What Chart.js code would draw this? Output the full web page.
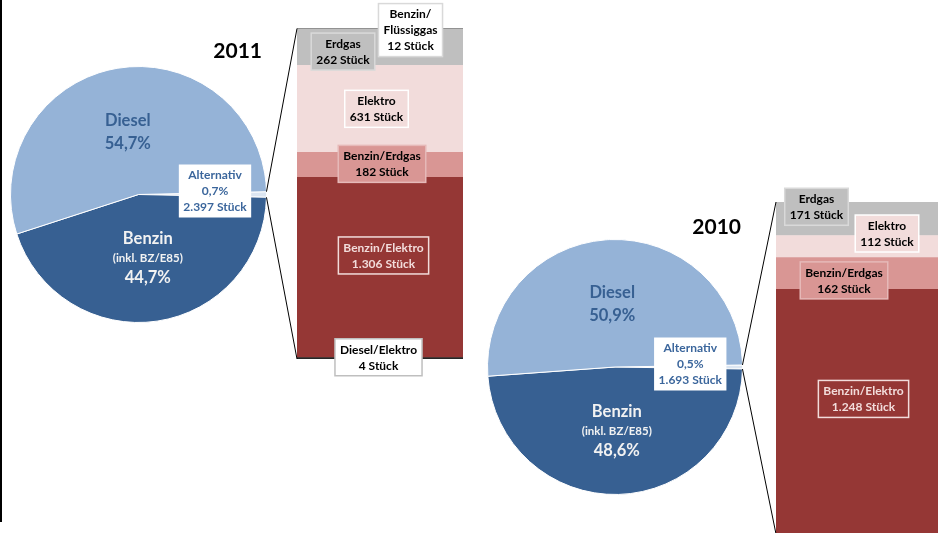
<!DOCTYPE html>
<html><head><meta charset="utf-8">
<script src="https://cdn.jsdelivr.net/npm/chart.js@4.4.1/dist/chart.umd.min.js"></script>
<style>
html,body{margin:0;padding:0;background:#fff;width:938px;height:533px;overflow:hidden;position:relative;}
.wrap{position:absolute;}
#frame{position:absolute;left:0;top:0;width:0;height:522px;border-left:2px solid #000;}
</style></head><body>
<div id="frame"></div>
<div class="wrap" style="left:0;top:0;width:280px;height:340px"><canvas id="pie11"></canvas></div>
<div class="wrap" style="left:240px;top:0;width:240px;height:385px"><canvas id="bar11"></canvas></div>
<div class="wrap" style="left:470px;top:180px;width:290px;height:340px"><canvas id="pie10"></canvas></div>
<div class="wrap" style="left:740px;top:180px;width:210px;height:360px"><canvas id="bar10"></canvas></div>
<script>
// ---------------- DATA ----------------
const pieCategories = ['Alternativ', 'Benzin', 'Diesel'];
const pieShares2011 = [0.7, 44.7, 54.7];
const pieShares2010 = [0.5, 48.6, 50.9];
const altCount2011 = 2397;
const altCount2010 = 1693;
const barCategories2011 = ['Diesel/Elektro', 'Benzin/Elektro', 'Benzin/Erdgas', 'Elektro', 'Erdgas', 'Benzin/Flüssiggas'];
const barValues2011 = [4, 1306, 182, 631, 262, 12];
const barCategories2010 = ['Benzin/Elektro', 'Benzin/Erdgas', 'Elektro', 'Erdgas'];
const barValues2010 = [1248, 162, 112, 171];
const yearLabels = ['2011', '2010'];

// ---------------- STYLE ----------------
const FONT = 'Lato, "Open Sans", sans-serif';
const pieColors = ['#dbe5f1', '#376092', '#95b3d7'];
const segColors = {
  'Diesel/Elektro': '#262626', 'Benzin/Elektro': '#953735', 'Benzin/Erdgas': '#d99694',
  'Elektro': '#f2dcdb', 'Erdgas': '#bfbfbf', 'Benzin/Flüssiggas': '#262626'
};
const barLabelStyle = {
  'Diesel/Elektro': {fill: '#ffffff', stroke: '#bfbfbf', color: '#000000'},
  'Benzin/Elektro': {fill: '#953735', stroke: '#f2dcdb', color: '#f2dcdb'},
  'Benzin/Erdgas': {fill: '#d99694', stroke: '#e6b9b8', color: '#000000'},
  'Elektro': {fill: '#f2dcdb', stroke: '#ffffff', color: '#000000'},
  'Erdgas': {fill: '#bfbfbf', stroke: '#d9d9d9', color: '#000000'},
  'Benzin/Flüssiggas': {fill: '#ffffff', stroke: '#d9d9d9', color: '#000000'}
};
const barLabelOffsets2011 = {
  'Benzin/Flüssiggas': [30.5, 1.7], 'Erdgas': [-37, 4.3], 'Elektro': [-3.5, 0],
  'Benzin/Erdgas': [2, -1], 'Benzin/Elektro': [3.5, -12], 'Diesel/Elektro': [-1.5, -1]
};
const barLabelOffsets2010 = {
  'Erdgas': [-42.5, -12], 'Elektro': [28, -13], 'Benzin/Erdgas': [-15, 7], 'Benzin/Elektro': [4.5, -12.7]
};

function fmtInt(n) { return String(n).replace(/\B(?=(\d{3})+(?!\d))/g, '.'); }
function fmtPct(p) { return p.toFixed(1).replace('.', ',') + '%'; }

// ---------------- PLUGINS ----------------
const boxLabels = {
  id: 'boxLabels',
  afterDatasetsDraw(chart, args, opts) {
    const ctx = chart.ctx;
    for (const it of (opts.items || [])) {
      const el = chart.getDatasetMeta(it.ds).data[it.idx];
      const c = el.getCenterPoint(true);
      const cx = c.x + (it.dx || 0), cy = c.y + (it.dy || 0);
      ctx.save();
      let w = 0, h = 0;
      it.lines.forEach(l => {
        ctx.font = 'bold ' + l.size + 'px ' + FONT;
        w = Math.max(w, ctx.measureText(l.t).width);
        h += l.lh;
      });
      if (it.box) {
        const bw = w + it.padX * 2, bh = h + it.padY * 2;
        ctx.fillStyle = it.box.fill;
        ctx.fillRect(cx - bw / 2, cy - bh / 2, bw, bh);
        if (it.box.stroke) {
          ctx.strokeStyle = it.box.stroke;
          ctx.lineWidth = 1.5;
          ctx.strokeRect(cx - bw / 2, cy - bh / 2, bw, bh);
        }
      }
      let y = cy - h / 2;
      ctx.textAlign = 'center';
      ctx.textBaseline = 'middle';
      it.lines.forEach(l => {
        ctx.font = 'bold ' + l.size + 'px ' + FONT;
        ctx.fillStyle = l.color || it.color;
        ctx.fillText(l.t, cx, y + l.lh / 2 + 0.5);
        y += l.lh;
      });
      ctx.restore();
    }
  }
};

const yearTitle = {
  id: 'yearTitle',
  afterDraw(chart, args, opts) {
    const ctx = chart.ctx, a = chart.chartArea;
    ctx.save();
    ctx.font = 'bold 21px ' + FONT;
    ctx.fillStyle = '#000000';
    ctx.textAlign = 'right';
    ctx.textBaseline = 'middle';
    ctx.fillText(opts.text, a.right + opts.dx, a.top + opts.dy);
    ctx.restore();
  }
};

const connector = {
  id: 'connector',
  afterDraw(chart, args, opts) {
    const pie = opts.pie;
    if (!pie) return;
    const arc = pie.getDatasetMeta(0).data[0];
    const pr = pie.canvas.getBoundingClientRect(), br = chart.canvas.getBoundingClientRect();
    const ox = pr.left - br.left, oy = pr.top - br.top;
    const r = arc.outerRadius;
    const p1 = {x: ox + arc.x + r * Math.cos(arc.startAngle), y: oy + arc.y + r * Math.sin(arc.startAngle)};
    const p2 = {x: ox + arc.x + r * Math.cos(arc.endAngle), y: oy + arc.y + r * Math.sin(arc.endAngle)};
    const bar = chart.getDatasetMeta(0).data[0];
    const left = bar.x - bar.width / 2;
    const ys = chart.scales.y;
    const top = ys.getPixelForValue(ys.max), bottom = ys.getPixelForValue(0);
    const ctx = chart.ctx;
    ctx.save();
    ctx.strokeStyle = '#000000';
    ctx.lineWidth = 1;
    ctx.beginPath();
    ctx.moveTo(p1.x, p1.y); ctx.lineTo(left, top);
    ctx.moveTo(p2.x, p2.y); ctx.lineTo(left, bottom);
    ctx.stroke();
    ctx.restore();
  }
};

// ---------------- BUILDERS ----------------
function pieItems(shares, count, altOffset) {
  const blue = '#376092', light = '#f2f2f2';
  return [
    {ds: 0, idx: 2, dx: 0, dy: 0, color: blue, lines: [
      {t: pieCategories[2], size: 16.5, lh: 23}, {t: fmtPct(shares[2]), size: 16.5, lh: 23}]},
    {ds: 0, idx: 1, dx: 0, dy: 0, color: light, lines: [
      {t: pieCategories[1], size: 16.5, lh: 20}, {t: '(inkl. BZ/E85)', size: 11.5, lh: 19}, {t: fmtPct(shares[1]), size: 16.5, lh: 20}]},
    {ds: 0, idx: 0, dx: altOffset[0], dy: altOffset[1], color: '#3b669c', padX: 4.5, padY: 2.5,
      box: {fill: '#ffffff'}, lines: [
      {t: pieCategories[0], size: 12, lh: 16}, {t: fmtPct(shares[0]), size: 12, lh: 16}, {t: fmtInt(count) + ' Stück', size: 12, lh: 16}]}
  ];
}

function makePie(id, shares, count, altOffset, year, tdx, tdy, padding) {
  const sum = shares.reduce((a, b) => a + b, 0);
  return new Chart(document.getElementById(id), {
    type: 'pie',
    data: {labels: pieCategories, datasets: [{data: shares, backgroundColor: pieColors, borderColor: '#ffffff', borderWidth: 1}]},
    options: {
      responsive: true, maintainAspectRatio: false, animation: false, events: [],
      rotation: 90 - shares[0] / sum * 180,
      layout: {padding: padding},
      plugins: {
        legend: {display: false}, tooltip: {enabled: false},
        boxLabels: {items: pieItems(shares, count, altOffset)},
        yearTitle: {text: year, dx: tdx, dy: tdy}
      }
    },
    plugins: [boxLabels, yearTitle]
  });
}

function barLines(cat, v) {
  const name = cat === 'Benzin/Flüssiggas' ? ['Benzin/', 'Flüssiggas'] : [cat];
  return name.concat([fmtInt(v) + ' Stück']).map(t => ({t: t, size: 12, lh: 16}));
}

function makeBar(id, cats, vals, offsets, pie, padding) {
  const total = vals.reduce((a, b) => a + b, 0);
  const items = cats.map((c, i) => ({
    ds: i, idx: 0, dx: offsets[c][0], dy: offsets[c][1], color: barLabelStyle[c].color,
    padX: 5, padY: 2.5, box: {fill: barLabelStyle[c].fill, stroke: barLabelStyle[c].stroke},
    lines: barLines(c, vals[i])
  })).reverse();
  return new Chart(document.getElementById(id), {
    type: 'bar',
    data: {labels: [''], datasets: cats.map((c, i) => ({
      label: c, data: [vals[i]], backgroundColor: segColors[c], borderWidth: 0,
      minBarLength: 1.5, barPercentage: 1, categoryPercentage: 1
    }))},
    options: {
      responsive: true, maintainAspectRatio: false, animation: false, events: [],
      layout: {padding: padding},
      scales: {
        x: {display: false, stacked: true},
        y: {display: false, stacked: true, min: 0, max: total}
      },
      plugins: {
        legend: {display: false}, tooltip: {enabled: false},
        boxLabels: {items: items},
        connector: {pie: pie}
      }
    },
    plugins: [boxLabels, connector]
  });
}

const pie11 = makePie('pie11', pieShares2011, altCount2011, [12.5, -3.5], yearLabels[0], -5, -15,
  {left: 10, right: 13, top: 66, bottom: 17});
const pie10 = makePie('pie10', pieShares2010, altCount2010, [11.5, -3], yearLabels[1], -2, -12,
  {left: 17, right: 17, top: 59, bottom: 25});
makeBar('bar11', barCategories2011, barValues2011, barLabelOffsets2011, pie11,
  {left: 57, right: 17, top: 28.5, bottom: 26});
makeBar('bar10', barCategories2010, barValues2010, barLabelOffsets2010, pie10,
  {left: 36, right: 8, top: 22, bottom: 6});
</script>
</body></html>
